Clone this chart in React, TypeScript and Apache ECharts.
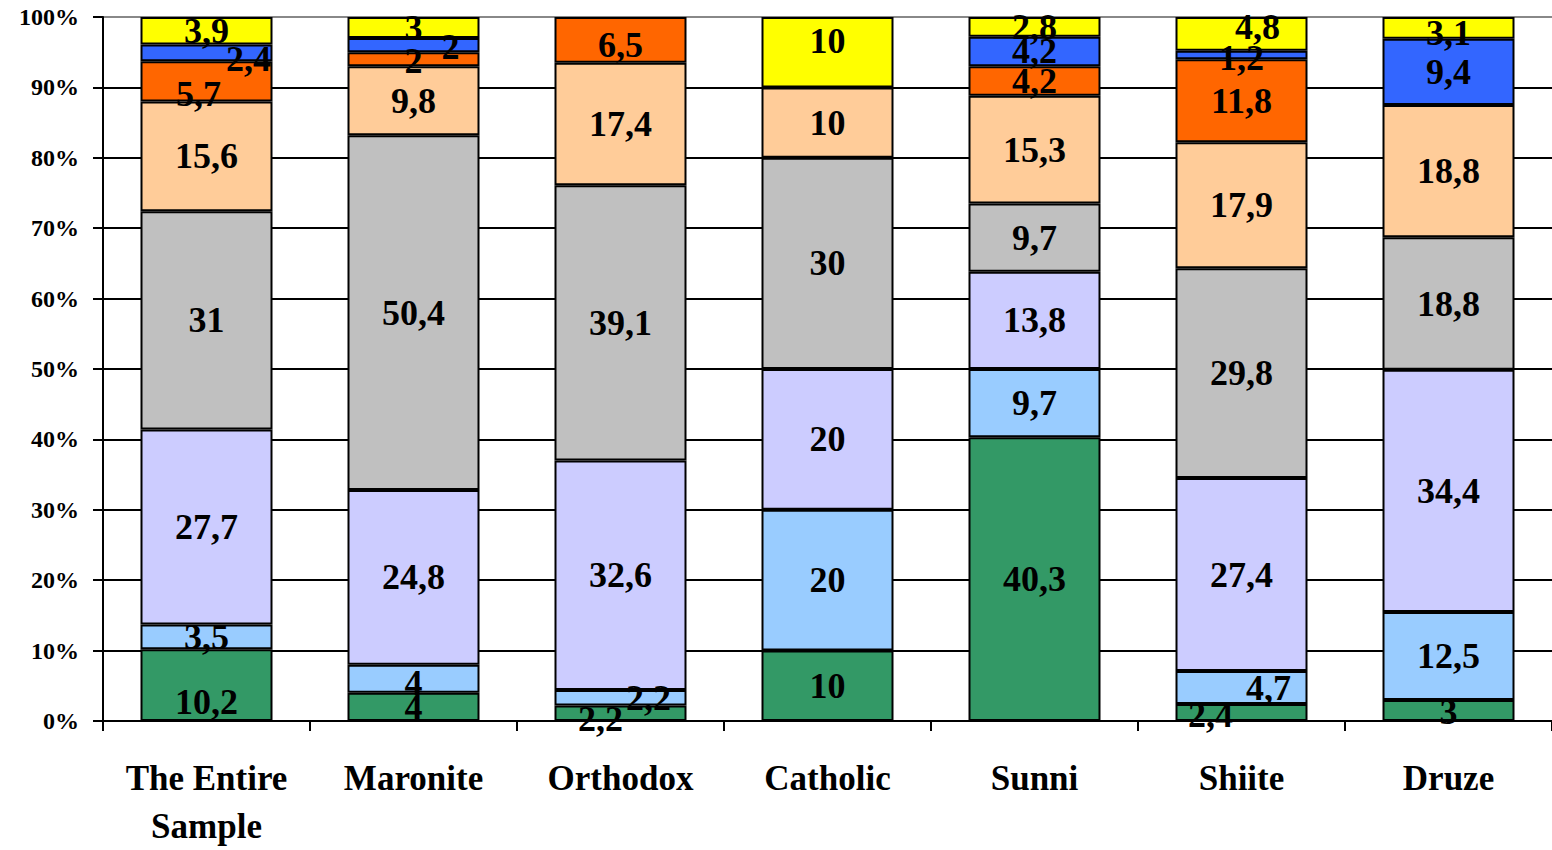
import React, { useEffect, useRef } from "react";
import * as echarts from "echarts";

const categories = ["The Entire\nSample", "Maronite", "Orthodox", "Catholic", "Sunni", "Shiite", "Druze"];
const yTickLabels = ["0%", "10%", "20%", "30%", "40%", "50%", "60%", "70%", "80%", "90%", "100%"];

const seriesNames = ["Group 1", "Group 2", "Group 3", "Group 4", "Group 5", "Group 6", "Group 7", "Group 8"];
const s1 = [10.2, 4, 2.2, 10, 40.3, 2.4, 3];
const s2 = [3.5, 4, 2.2, 20, 9.7, 4.7, 12.5];
const s3 = [27.7, 24.8, 32.6, 20, 13.8, 27.4, 34.4];
const s4 = [31, 50.4, 39.1, 30, 9.7, 29.8, 18.8];
const s5 = [15.6, 9.8, 17.4, 10, 15.3, 17.9, 18.8];
const s6 = [5.7, 2, 6.5, null, 4.2, 11.8, null];
const s7 = [2.4, 2, null, null, 4.2, 1.2, 9.4];
const s8 = [3.9, 3, null, 10, 2.8, 4.8, 3.1];
const seriesValues = [s1, s2, s3, s4, s5, s6, s7, s8];

const seriesColors = ["#339966", "#99CCFF", "#CCCCFF", "#C0C0C0", "#FFCC99", "#FF6600", "#3366FF", "#FFFF00"];

// label nudges [series index, category index, dx, dy]
const labelNudges: [number, number, number, number][] = [
  [0, 0, 0, 17],
  [5, 0, -8, 13],
  [6, 0, 42, 6],
  [1, 1, 0, 4],
  [6, 1, 37, 2],
  [5, 1, 0, 2],
  [0, 2, -20, 6],
  [1, 2, 28, 0],
  [5, 2, 0, 5],
  [7, 3, 0, -11],
  [0, 5, -31, 2],
  [1, 5, 27, 0],
  [6, 5, 0, 3],
  [7, 5, 16, -7],
  [7, 6, 0, 5],
  [0, 6, 0, 2],
];

const FONT = "'Liberation Serif', 'Times New Roman', serif";

export default function App() {
  const ref = useRef<HTMLDivElement>(null);
  useEffect(() => {
    if (!ref.current) return;
    const chart = echarts.init(ref.current, null, { renderer: "svg" });
    const series = seriesValues.map((vals, si) => ({
      name: seriesNames[si],
      type: "bar",
      stack: "total",
      barWidth: 132,
      itemStyle: { color: seriesColors[si], borderColor: "#000", borderWidth: 2 },
      label: {
        show: true,
        position: "inside",
        fontFamily: FONT,
        fontWeight: "bold",
        fontSize: 36,
        color: "#000",
        formatter: (p: any) => (p.value == null || p.value === 0 ? "" : String(p.value).replace(".", ",")),
      },
      data: vals.map((v, ci) => {
        const n = labelNudges.find((x) => x[0] === si && x[1] === ci);
        if (n && v != null) return { value: v, label: { offset: [n[2], n[3]] } };
        return v;
      }),
    }));
    chart.setOption({
      animation: false,
      grid: { left: 103, right: 0, top: 17, bottom: 123, containLabel: false },
      xAxis: {
        type: "category",
        data: categories,
        axisLine: { lineStyle: { color: "#000", width: 2 } },
        axisTick: { show: true, length: 10, lineStyle: { color: "#000", width: 2 } },
        axisLabel: {
          interval: 0,
          margin: 33,
          fontFamily: FONT,
          fontWeight: "bold",
          fontSize: 35,
          lineHeight: 48,
          color: "#000",
        },
      },
      yAxis: {
        type: "value",
        min: 0,
        max: 100,
        interval: 10,
        axisLine: { show: true, lineStyle: { color: "#000", width: 2 } },
        axisTick: { show: true, length: 10, lineStyle: { color: "#000", width: 2 } },
        axisLabel: {
          margin: 24,
          fontFamily: FONT,
          fontWeight: "bold",
          fontSize: 24,
          color: "#000",
          formatter: (v: number) => yTickLabels[Math.round(v / 10)],
        },
        splitLine: {
          show: true,
          lineStyle: {
            color: ["#000", "#000", "#000", "#000", "#000", "#000", "#000", "#000", "#000", "#000", "#888"],
            width: 2,
          },
        },
      },
      series,
    });
    return () => chart.dispose();
  }, []);
  return <div ref={ref} style={{ position: "fixed", left: 0, top: 0, width: 1552, height: 850, background: "#fff" }} />;
}
